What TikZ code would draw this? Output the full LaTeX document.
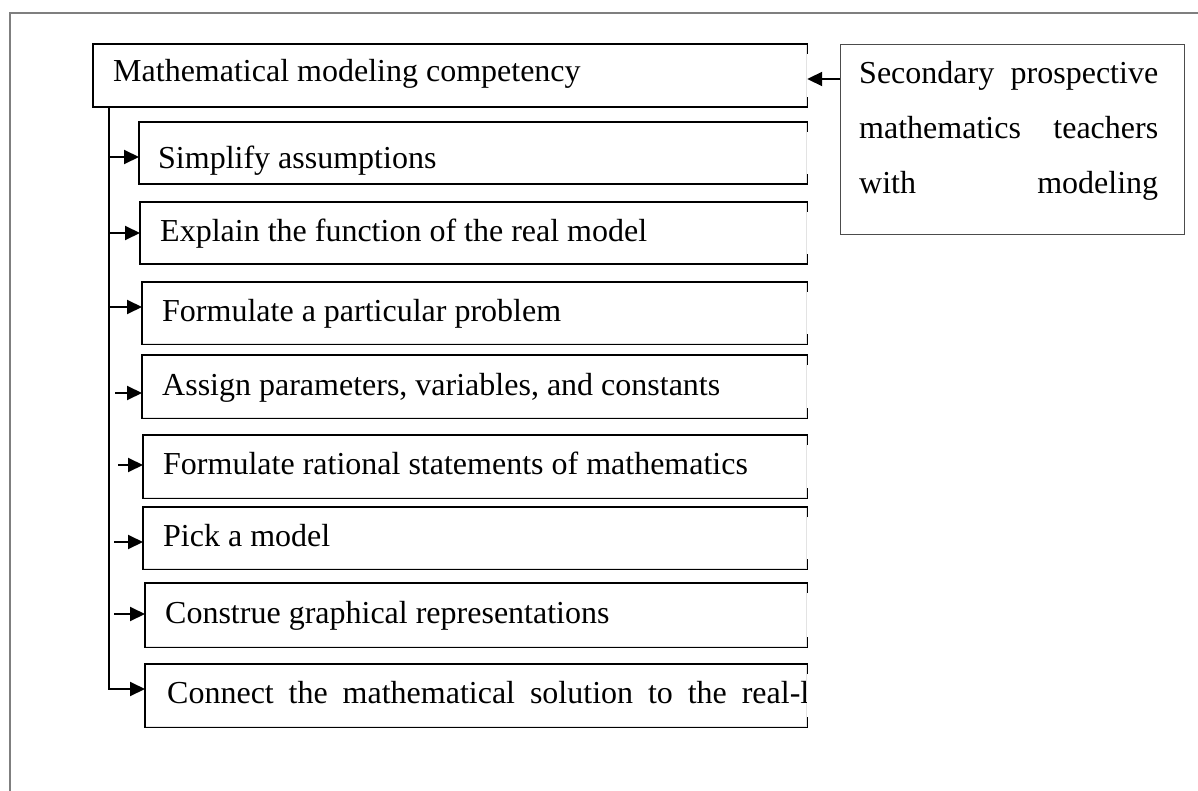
\documentclass[tikz,border=0pt]{standalone}
\usepackage{fontspec}
\setmainfont{Liberation Serif}
\usepackage{xcolor}
\definecolor{framegray}{HTML}{7F7F7F}
\definecolor{edgegray}{HTML}{E3E3E3}
\usetikzlibrary{arrows.meta,positioning}

\begin{document}
\begin{tikzpicture}[
  x=1pt, y=-1pt, %pixel units
  every node/.append style={font=\fontsize{32}{38}\selectfont},
  box/.style={draw=edgegray, line width=1.2pt, anchor=north west, inner sep=0pt},
  rim/.style={line width=1.4pt, black},
  txt/.style={anchor=base west, inner sep=0pt},
  arr/.style={line width=2pt, -{Triangle[length=15pt,width=14pt]}}
  ]
  \useasboundingbox (0,0) rectangle (1198,791);
  \draw[framegray, line width=1.3pt] (10,791) -- (10,13) -- (1198,13);

  \node[box, minimum width=713pt, minimum height=62pt] (main) at (93,44) {};
  \node[box, minimum width=667pt, minimum height=61pt] (s1) at (139,122) {};
  \node[box, minimum width=666pt, minimum height=61pt] (s2) at (140,202) {};
  \node[box, minimum width=664pt, minimum height=61pt] (s3) at (142,282) {};
  \node[box, minimum width=664pt, minimum height=62pt] (s4) at (142,355) {};
  \node[box, minimum width=663pt, minimum height=62pt] (s5) at (143,435) {};
  \node[box, minimum width=663pt, minimum height=61pt] (s6) at (143,507) {};
  \node[box, minimum width=661pt, minimum height=63pt] (s7) at (145,583) {};
  \node[box, minimum width=661pt, minimum height=62pt] (s8) at (145,664) {};
  \foreach \n in {main,s1,s2,s3,s4,s5,s6,s7,s8}
    \draw[rim] ([yshift=-10pt]\n.north east) -- (\n.north east) -- (\n.north west)
      -- (\n.south west) -- (\n.south east) -- ([yshift=10pt]\n.south east);

  \node[txt] (tmain) at (113,82) {Mathematical modeling competency};
  \node[txt] (t1) at (158,169) {Simplify assumptions};
  \node[txt] (t2) at (160,242) {Explain the function of the real model};
  \node[txt] (t3) at (162,321) {Formulate a particular problem};
  \node[txt] (t4) at (162,395) {Assign parameters, variables, and constants};
  \node[txt] (t5) at (163,474) {Formulate rational statements of mathematics};
  \node[txt] (t6) at (163,546) {Pick a model};
  \node[txt] (t7) at (165,623) {Construe graphical representations};
  \begin{scope}
    \clip (145,664) rectangle (806,726);
    \node[txt] (t8) at (167,703) {\makebox[642pt][s]{Connect the mathematical solution to the real-l}};
  \end{scope}

  % teachers box
  \node[box, draw=black!70, line width=1.3pt, minimum width=344pt, minimum height=190pt] (prep) at (840,44) {};
  \node[txt] (p1) at (859,84) {\makebox[299pt][s]{Secondary prospective}};
  \node[txt] (p2) at (859,139) {\makebox[299pt][s]{mathematics teachers}};
  \node[txt] (p3) at (859,194) {\makebox[299pt][s]{with modeling}};

  \coordinate (a0) at (840,79);
  \draw[arr] (a0 -| prep.west) -- (a0 -| main.east);

  \coordinate (a8) at (0,689);
  \draw[arr] ([xshift=16pt]main.south west) |- (a8 -| s8.west);
  \foreach \i/\x/\y in {1/109/157, 2/109/233, 3/109/307, 4/115/393, 5/118/465, 6/114/542, 7/114/614} {
    \coordinate (a\i) at (\x,\y);
    \draw[arr] (a\i) -- (a\i -| s\i.west);
  }
\end{tikzpicture}
\end{document}
